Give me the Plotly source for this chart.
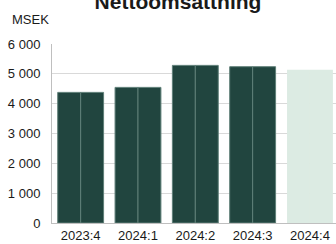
import plotly.graph_objects as go

categories = ["2023:4", "2024:1", "2024:2", "2024:3", "2024:4"]
values = [4378, 4546, 5283, 5239, 5138]
bar_colors = ["#21453f", "#21453f", "#21453f", "#21453f", "#dcebe3"]
line_colors = ["#5f7f78", "#5f7f78", "#5f7f78", "#5f7f78", "#dcebe3"]
line_widths = [1, 1, 1, 1, 0]

fig = go.Figure()
for og in ["a", "b"]:
    fig.add_trace(go.Bar(
        x=categories, y=values, offsetgroup=og,
        marker=dict(color=bar_colors, line=dict(color=line_colors, width=line_widths)),
        showlegend=False, hoverinfo="x+y",
    ))

W, H = 336, 244
ml, mr, mt, mb = 52, 0, 44, 21
pw = W - ml - mr
ph = H - mt - mb

fig.update_layout(
    width=W, height=H,
    margin=dict(l=ml, r=mr, t=mt, b=mb, pad=0),
    paper_bgcolor="white", plot_bgcolor="white",
    barmode="group", bargap=0.2, bargroupgap=0,
    separators=", ",
    font=dict(family="Liberation Sans, Arial, sans-serif", size=13, color="#1a1a1a"),
    title=dict(text="<b>Nettoomsättning</b>", x=178 / W, xanchor="center",
               y=1 - 2 / H, yanchor="middle", yref="container",
               font=dict(size=21, color="#1a1a1a")),
    xaxis=dict(range=[-0.5, 4.454], showline=True, linecolor="#bfbfbf", linewidth=1,
               showgrid=False, ticks="", tickfont=dict(size=13)),
    yaxis=dict(range=[0, 6000], dtick=1000, tickformat=",", showline=True,
               linecolor="#bfbfbf", linewidth=1, gridcolor="#d9d9d9", gridwidth=1,
               zeroline=False, ticks="", ticklabelstandoff=8, tickfont=dict(size=13)),
    annotations=[dict(text="MSEK", xref="paper", yref="paper",
                      x=(10 - ml) / pw, y=(H - mb - 19) / ph,
                      xanchor="left", yanchor="middle", showarrow=False,
                      font=dict(size=13))],
)

fig.write_html("out.html", config={"displayModeBar": False},
               post_script="document.body.style.margin='0';document.body.style.overflow='hidden';")
